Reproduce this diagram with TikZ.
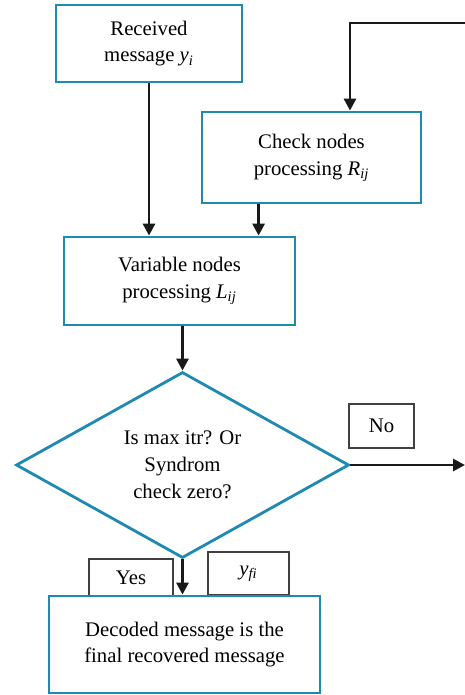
\documentclass[tikz,border=0pt]{standalone}
\usepackage{amsmath}
\usepackage{fontspec}
\setmainfont{Liberation Serif}
\usepackage{xcolor}
\usetikzlibrary{arrows.meta, positioning, shapes.geometric}
\definecolor{boxblue}{RGB}{30,138,178}
\newcommand{\itsub}[2]{\textit{#1}\textsubscript{\textit{#2}}}
\begin{document}
\begin{tikzpicture}[
		block/.style={rectangle,draw=boxblue,line width=1.6pt,fill=white,
			align=center,font=\fontsize{11.8}{15.3}\selectfont,inner sep=2pt},
		decision/.style={diamond,draw=boxblue,line width=1.6pt,fill=white,
			align=center,font=\fontsize{11.8}{15.3}\selectfont,inner sep=0pt,
			minimum width=6.66cm,minimum height=3.72cm},
		tag/.style={rectangle,draw=black!75,line width=0.8pt,fill=white,
			font=\fontsize{11.8}{15.3}\selectfont},
		arrow/.style={-{Triangle[length=0.24cm,width=0.24cm]},line width=1.6pt,black!90},
		]
		\useasboundingbox (0,0) rectangle (9.3,-13.9);
		% main blocks
		\node[block,minimum width=3.72cm,minimum height=1.54cm] (recv) at (2.98,-0.87)
		{Received\\ message \itsub{y}{i}};
		\node[block,minimum width=4.38cm,minimum height=1.82cm] (check) at (6.23,-3.15)
		{Check nodes\\ processing \itsub{R}{ij}};
		\node[block,minimum width=4.62cm,minimum height=1.76cm] (var) at (3.59,-5.62)
		{Variable nodes\\ processing \itsub{L}{ij}};
		\node[decision] (dec) at (3.65,-9.3)
		{Is max itr? Or\\ Syndrom\\ check zero?};
		% small labels (Yes box sits behind the output block)
		\node[tag,minimum width=1.68cm,minimum height=0.74cm] (yes) at (2.62,-11.55) {Yes};
		\node[tag,minimum width=1.62cm,minimum height=0.86cm] (yfi) at (4.97,-11.47) {\itsub{y}{fi}};
		\node[tag,minimum width=1.3cm,minimum height=0.88cm] (no) at (7.63,-8.52) {No};
		\node[block,minimum width=5.42cm,minimum height=1.94cm] (done) at (3.69,-12.89)
		{Decoded message is the\\ final recovered message};
		
		% connectors
		\coordinate (fbin) at (9.3,-0.46);
		\coordinate (fbout) at (9.3,-9.3);
		\draw[arrow] (fbin) -- (7.0,-0.46) -- (7.0,-0.46 |- check.north);
		\draw[arrow] (recv.south) -- (recv.south |- var.north);
		\draw[arrow] ([xshift=1.16cm]check.south west) -- ([xshift=1.16cm]check.south west |- var.north);
		\draw[arrow] (dec.north |- var.south) -- (dec.north);
		\draw[arrow] (dec.east) -- (fbout);
		\draw[arrow] (dec.south) -- (dec.south |- done.north);
	\end{tikzpicture}
\end{document}
